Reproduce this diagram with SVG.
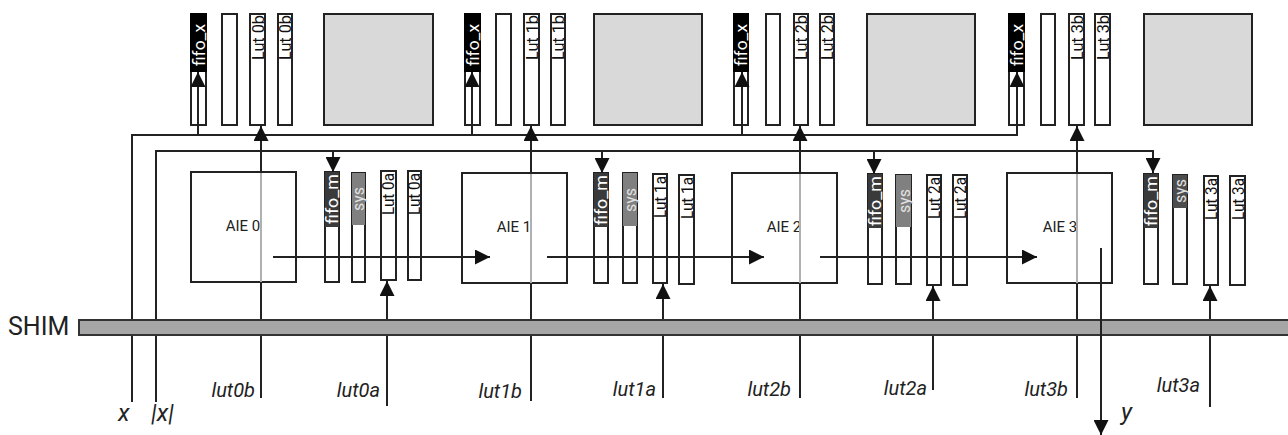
<svg xmlns="http://www.w3.org/2000/svg" width="1288" height="435" viewBox="0 0 1288 435">
<style>
.bx{fill:#fff;stroke:#222;stroke-width:2}
.gy{fill:#d9d9d9;stroke:#222;stroke-width:2}
.k{fill:#000}
.dm{fill:#3a3a3a}
.sy{fill:#808080}
.sy3{fill:#4d4d4d}
.ln{fill:none;stroke:#222;stroke-width:2}
.lf{fill:none;stroke:#b0b0b0;stroke-width:2}
.ar{marker-end:url(#ah)}
.t{font-family:Roboto,'Liberation Sans',sans-serif}
.vl{font-size:16px;fill:#111}
.vf{font-size:16px;fill:#fff}
.vs{font-size:16px;fill:#e2e2e2}
.aiet{font-size:15px;fill:#222;text-anchor:middle}
.lb{font-size:20px;font-style:italic;fill:#222;text-anchor:end}
.xy{font-size:24px;font-style:italic;fill:#222}
</style>
<defs>
<marker id="ah" viewBox="0 0 15 15" refX="15" refY="7.5" markerWidth="15" markerHeight="15" markerUnits="userSpaceOnUse" orient="auto">
<path d="M0,0 L15,7.5 L0,15 z" fill="#111"/>
</marker>
</defs>

<g id="shim">
<rect x="79" y="320" width="1215" height="15" fill="#a6a6a6" stroke="#333" stroke-width="2"/>
<text class="t" x="8" y="335" font-size="25" fill="#222">SHIM</text>
</g>

<g id="top0">
<rect class="bx" x="191" y="14" width="15" height="111"/><rect class="k" x="190" y="13" width="17" height="59"/>
<text class="t vf" text-anchor="middle" transform="translate(205,45) rotate(-90)" textLength="42" lengthAdjust="spacingAndGlyphs">fifo_x</text>
<rect class="bx" x="222" y="14" width="15" height="111"/>
<rect class="bx" x="250" y="14" width="15" height="111"/>
<text class="t vl" transform="translate(264,60) rotate(-90)" textLength="45" lengthAdjust="spacingAndGlyphs">Lut 0b</text>
<rect class="bx" x="278" y="14" width="14" height="111"/>
<text class="t vl" transform="translate(291,60) rotate(-90)" textLength="45" lengthAdjust="spacingAndGlyphs">Lut 0b</text>
<rect class="gy" x="324" y="14" width="109" height="111"/>
</g>
<g id="top1">
<rect class="bx" x="465" y="14" width="15" height="111"/><rect class="k" x="464" y="13" width="17" height="59"/>
<text class="t vf" text-anchor="middle" transform="translate(479,45) rotate(-90)" textLength="42" lengthAdjust="spacingAndGlyphs">fifo_x</text>
<rect class="bx" x="496" y="14" width="15" height="111"/>
<rect class="bx" x="524" y="14" width="15" height="111"/>
<text class="t vl" transform="translate(538,60) rotate(-90)" textLength="45" lengthAdjust="spacingAndGlyphs">Lut 1b</text>
<rect class="bx" x="551" y="14" width="14" height="111"/>
<text class="t vl" transform="translate(564,60) rotate(-90)" textLength="45" lengthAdjust="spacingAndGlyphs">Lut 1b</text>
<rect class="gy" x="594" y="14" width="108" height="111"/>
</g>
<g id="top2">
<rect class="bx" x="734" y="14" width="14" height="111"/><rect class="k" x="733" y="13" width="16" height="59"/>
<text class="t vf" text-anchor="middle" transform="translate(747,45) rotate(-90)" textLength="42" lengthAdjust="spacingAndGlyphs">fifo_x</text>
<rect class="bx" x="766" y="14" width="14" height="111"/>
<rect class="bx" x="794" y="14" width="14" height="111"/>
<text class="t vl" transform="translate(807,60) rotate(-90)" textLength="45" lengthAdjust="spacingAndGlyphs">Lut 2b</text>
<rect class="bx" x="820" y="14" width="14" height="111"/>
<text class="t vl" transform="translate(833,60) rotate(-90)" textLength="45" lengthAdjust="spacingAndGlyphs">Lut 2b</text>
<rect class="gy" x="867" y="14" width="108" height="111"/>
</g>
<g id="top3">
<rect class="bx" x="1009" y="14" width="15" height="111"/><rect class="k" x="1008" y="13" width="17" height="59"/>
<text class="t vf" text-anchor="middle" transform="translate(1023,45) rotate(-90)" textLength="42" lengthAdjust="spacingAndGlyphs">fifo_x</text>
<rect class="bx" x="1041" y="14" width="14" height="111"/>
<rect class="bx" x="1069" y="14" width="15" height="111"/>
<text class="t vl" transform="translate(1083,60) rotate(-90)" textLength="45" lengthAdjust="spacingAndGlyphs">Lut 3b</text>
<rect class="bx" x="1095" y="14" width="15" height="111"/>
<text class="t vl" transform="translate(1109,60) rotate(-90)" textLength="45" lengthAdjust="spacingAndGlyphs">Lut 3b</text>
<rect class="gy" x="1144" y="14" width="108" height="111"/>
</g>

<g id="aie0">
<rect class="bx" x="191" y="172" width="105" height="110"/>
<text class="t aiet" x="243" y="231">AIE 0</text>
</g>
<g id="mem0">
<rect class="bx" x="325" y="172" width="14" height="110"/><rect class="dm" x="325" y="172" width="14" height="55"/>
<text class="t vf" text-anchor="middle" transform="translate(338,199) rotate(-90)" fill="#eee" textLength="50" lengthAdjust="spacingAndGlyphs">fifo_m</text>
<rect class="bx" x="352" y="173" width="13" height="109"/><rect class="sy" x="352" y="173" width="13" height="52"/>
<text class="t vs" text-anchor="middle" transform="translate(364,199) rotate(-90)" textLength="24" lengthAdjust="spacingAndGlyphs">sys</text>
<rect class="bx" x="381" y="171" width="15" height="109"/>
<text class="t vl" transform="translate(394,215) rotate(-90)" textLength="42" lengthAdjust="spacingAndGlyphs">Lut 0a</text>
<rect class="bx" x="408" y="171" width="13" height="109"/>
<text class="t vl" transform="translate(420,215) rotate(-90)" textLength="42" lengthAdjust="spacingAndGlyphs">Lut 0a</text>
</g>
<g id="aie1">
<rect class="bx" x="462" y="173" width="105" height="110"/>
<text class="t aiet" x="514" y="232">AIE 1</text>
</g>
<g id="mem1">
<rect class="bx" x="594" y="173" width="14" height="110"/><rect class="dm" x="594" y="173" width="14" height="54"/>
<text class="t vf" text-anchor="middle" transform="translate(607,200) rotate(-90)" fill="#eee" textLength="50" lengthAdjust="spacingAndGlyphs">fifo_m</text>
<rect class="bx" x="623" y="173" width="14" height="110"/><rect class="sy" x="623" y="173" width="14" height="53"/>
<text class="t vs" text-anchor="middle" transform="translate(636,200) rotate(-90)" textLength="24" lengthAdjust="spacingAndGlyphs">sys</text>
<rect class="bx" x="653" y="174" width="14" height="109"/>
<text class="t vl" transform="translate(666,218) rotate(-90)" textLength="42" lengthAdjust="spacingAndGlyphs">Lut 1a</text>
<rect class="bx" x="679" y="175" width="15" height="109"/>
<text class="t vl" transform="translate(693,219) rotate(-90)" textLength="42" lengthAdjust="spacingAndGlyphs">Lut 1a</text>
</g>
<g id="aie2">
<rect class="bx" x="732" y="173" width="105" height="110"/>
<text class="t aiet" x="784" y="232">AIE 2</text>
</g>
<g id="mem2">
<rect class="bx" x="868" y="174" width="14" height="110"/><rect class="dm" x="868" y="174" width="14" height="54"/>
<text class="t vf" text-anchor="middle" transform="translate(881,201) rotate(-90)" fill="#eee" textLength="50" lengthAdjust="spacingAndGlyphs">fifo_m</text>
<rect class="bx" x="896" y="175" width="15" height="109"/><rect class="sy" x="896" y="175" width="15" height="52"/>
<text class="t vs" text-anchor="middle" transform="translate(910,201) rotate(-90)" textLength="24" lengthAdjust="spacingAndGlyphs">sys</text>
<rect class="bx" x="927" y="175" width="14" height="110"/>
<text class="t vl" transform="translate(940,219) rotate(-90)" textLength="42" lengthAdjust="spacingAndGlyphs">Lut 2a</text>
<rect class="bx" x="953" y="175" width="14" height="110"/>
<text class="t vl" transform="translate(966,219) rotate(-90)" textLength="42" lengthAdjust="spacingAndGlyphs">Lut 2a</text>
</g>
<g id="aie3">
<rect class="bx" x="1007" y="173" width="105" height="110"/>
<text class="t aiet" x="1060" y="232">AIE 3</text>
</g>
<g id="mem3">
<rect class="bx" x="1144" y="174" width="14" height="110"/><rect class="dm" x="1144" y="174" width="14" height="54"/>
<text class="t vf" text-anchor="middle" transform="translate(1157,201) rotate(-90)" fill="#eee" textLength="50" lengthAdjust="spacingAndGlyphs">fifo_m</text>
<rect class="bx" x="1173" y="175" width="14" height="109"/><rect class="sy3" x="1173" y="175" width="14" height="33"/>
<text class="t vs" text-anchor="middle" transform="translate(1186,191) rotate(-90)" textLength="24" lengthAdjust="spacingAndGlyphs">sys</text>
<rect class="bx" x="1204" y="176" width="14" height="109"/>
<text class="t vl" transform="translate(1217,220) rotate(-90)" textLength="42" lengthAdjust="spacingAndGlyphs">Lut 3a</text>
<rect class="bx" x="1230" y="176" width="15" height="109"/>
<text class="t vl" transform="translate(1244,220) rotate(-90)" textLength="42" lengthAdjust="spacingAndGlyphs">Lut 3a</text>
</g>

<g id="connectors">
<path class="ln" d="M132,402 V336"/>
<path class="ln ar" d="M132,319 V135 H1017 V72"/>
<path class="ln ar" d="M198,135 V72"/>
<path class="ln ar" d="M472,135 V72"/>
<path class="ln ar" d="M742,135 V72"/>
<path class="ln" d="M156,402 V336"/>
<path class="ln ar" d="M156,319 V151 H1153 V173"/>
<path class="ln ar" d="M333,151 V172"/>
<path class="ln ar" d="M602,151 V173"/>
<path class="ln ar" d="M874,151 V174"/>
<path class="ln" d="M261,398 V336 M261,319 V283"/>
<path class="lf" d="M261,282 V173"/>
<path class="ln ar" d="M261,172 V126"/>
<path class="ln" d="M531,401 V336 M531,319 V284"/>
<path class="lf" d="M531,283 V174"/>
<path class="ln ar" d="M531,173 V126"/>
<path class="ln" d="M800,398 V336 M800,319 V284"/>
<path class="lf" d="M800,283 V174"/>
<path class="ln ar" d="M800,173 V126"/>
<path class="ln" d="M1077,398 V336 M1077,319 V284"/>
<path class="lf" d="M1077,283 V174"/>
<path class="ln ar" d="M1077,173 V126"/>
<path class="ln" d="M387,406 V336"/>
<path class="ln ar" d="M387,319 V281"/>
<path class="ln" d="M663,398 V336"/>
<path class="ln ar" d="M663,319 V284"/>
<path class="ln" d="M933,390 V336"/>
<path class="ln ar" d="M933,319 V286"/>
<path class="ln" d="M1210,407 V336"/>
<path class="ln ar" d="M1210,319 V286"/>
<path class="ln ar" d="M273,257 H490"/>
<path class="ln ar" d="M547,257 H764"/>
<path class="ln ar" d="M820,257 H1037"/>
<path class="ln ar" d="M1101,248 V435"/>
</g>

<g id="labels" class="t">
<text class="xy" x="118" y="421">x</text>
<text class="xy" x="151" y="421">|x|</text>
<text class="xy" x="1121" y="420">y</text>
<text class="lb" x="255" y="397">lut0b</text>
<text class="lb" x="380" y="397">lut0a</text>
<text class="lb" x="522" y="398">lut1b</text>
<text class="lb" x="656" y="396">lut1a</text>
<text class="lb" x="791" y="396">lut2b</text>
<text class="lb" x="927" y="395">lut2a</text>
<text class="lb" x="1068" y="396">lut3b</text>
<text class="lb" x="1200" y="392">lut3a</text>
</g>
</svg>
